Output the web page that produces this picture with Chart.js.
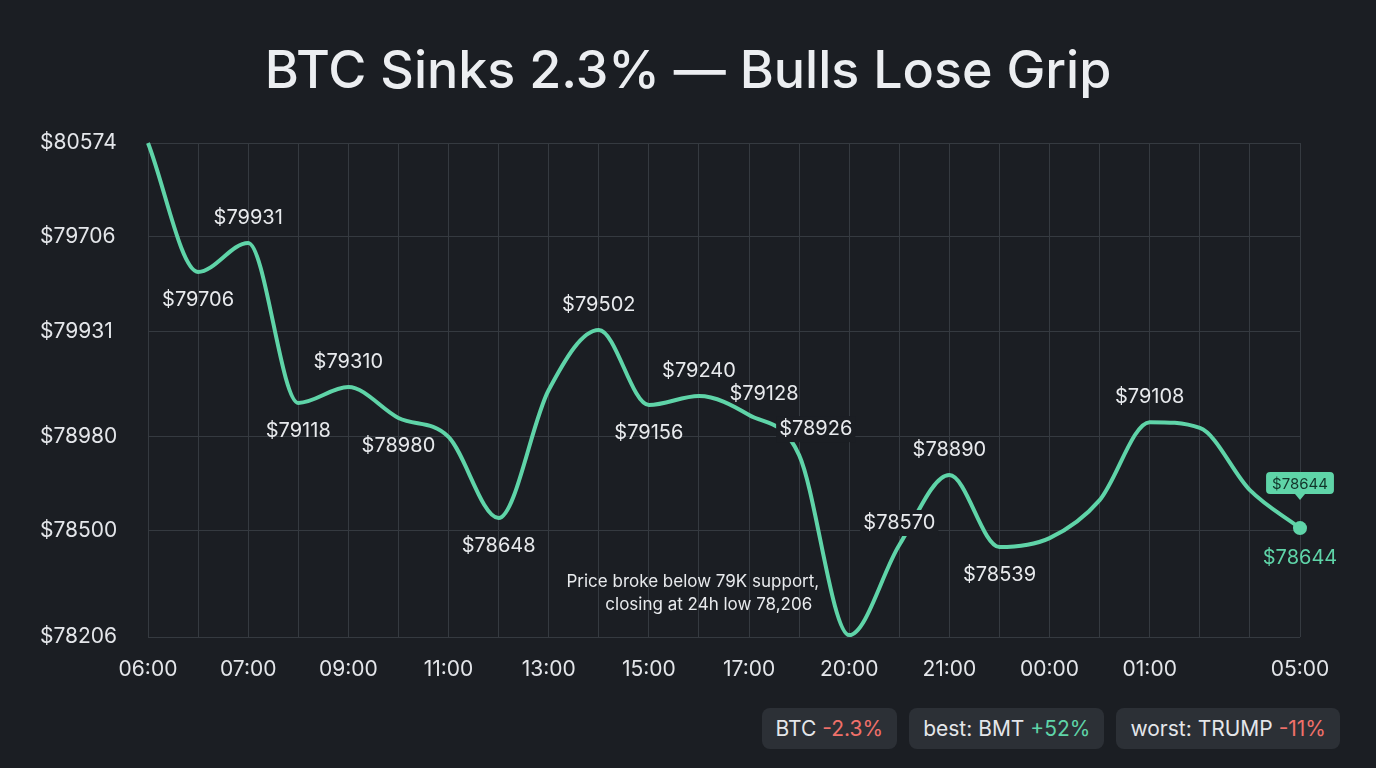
<!DOCTYPE html>
<html>
<head>
<meta charset="utf-8">
<script src="https://cdn.jsdelivr.net/npm/chart.js@4"></script>
<style>
  html, body { margin: 0; padding: 0; background: #1b1e23; }
  body { width: 1376px; height: 768px; position: relative; overflow: hidden; font-family: Inter, "Noto Sans", sans-serif; }
  #wrap { position: absolute; left: 0; top: 0; width: 1376px; height: 768px; }
  .pills { position: absolute; right: 36px; top: 708px; display: flex; gap: 12px; }
  .pill { background: #2c3036; color: #e4e6ea; font-size: 21px; padding: 8px 14px; border-radius: 8px; }
  .neg { color: #f0706a; }
  .pos { color: #5fd4a8; }
</style>
</head>
<body>
<div id="wrap"><canvas id="btcChart"></canvas></div>
<div class="pills">
  <div class="pill">BTC <span class="neg">-2.3%</span></div>
  <div class="pill">best: BMT <span class="pos">+52%</span></div>
  <div class="pill">worst: TRUMP <span class="neg">-11%</span></div>
</div>
<script>
// hourly labels, only some shown on the axis
const hours = ["06:00","","07:00","","09:00","","11:00","","13:00","","15:00","","17:00","","20:00","","21:00","","00:00","","01:00","","","05:00"];
const prices = [80574, 79956, 80095, 79328, 79404, 79256, 79165, 78776, 79390, 79678, 79318, 79361,
                79270, 79078, 78215, 78647, 78982, 78637, 78680, 78862, 79236, 79208, 78910, 78728];
// annotation text per point ("" = none) and where it sits
const pointLabels = ["", "$79706", "$79931", "$79118", "$79310", "$78980", "", "$78648", "", "$79502", "$79156", "$79240",
                     "$79128", "$78926", "", "$78570", "$78890", "$78539", "", "", "$79108", "", "", ""];
const labelSide = ["", "below", "above", "below", "above", "below", "", "below", "", "above", "below", "above",
                   "aboveR", "rightBg", "", "leftBg", "above", "below", "", "", "above", "", "", ""];
const yTickValues = [80574, 80124, 79669, 79166, 78715, 78206];
const yTickLabels = ["$80574", "$79706", "$79931", "$78980", "$78500", "$78206"];
const lastLabel = "$78644";

const LINE = "#5fd4a8";
const BG = "#1b1e23";

const titlePlugin = {
  id: "titleText",
  afterDraw(chart) {
    const ctx = chart.ctx;
    ctx.save();
    ctx.fillStyle = "#eceef1";
    ctx.font = "500 52px Inter, 'Noto Sans', sans-serif";
    ctx.textAlign = "center";
    ctx.textBaseline = "middle";
    ctx.fillText("BTC Sinks 2.3% — Bulls Lose Grip", 688, 72);
    ctx.restore();
  }
};

const labelPlugin = {
  id: "pointText",
  afterDatasetsDraw(chart) {
    const ctx = chart.ctx;
    const meta = chart.getDatasetMeta(0);
    ctx.save();
    ctx.font = "20px Inter, 'Noto Sans', sans-serif";
    ctx.textBaseline = "middle";
    meta.data.forEach((pt, i) => {
      const txt = pointLabels[i];
      if (!txt) return;
      let x = pt.x, y = pt.y;
      ctx.textAlign = "center";
      let bg = false;
      switch (labelSide[i]) {
        case "above": y -= 25; break;
        case "below": y += 28; break;
        case "aboveR": x += 15; y -= 21; break;
        case "rightBg": x -= 20; y -= 26; ctx.textAlign = "left"; bg = true; break;
        case "leftBg": y -= 22; bg = true; break;
      }
      const w = ctx.measureText(txt).width;
      if (bg) {
        ctx.fillStyle = BG;
        const bx = ctx.textAlign === "left" ? x - 3 : x - w / 2 - 3;
        ctx.fillRect(bx, y - 13, w + 6, 26);
      }
      ctx.fillStyle = "#e8eaed";
      ctx.fillText(txt, x, y);
    });

    // annotation at the low
    const low = meta.data[14];
    ctx.font = "17px Inter, 'Noto Sans', sans-serif";
    ctx.textAlign = "right";
    ctx.fillStyle = "#e8eaed";
    ctx.fillText("Price broke below 79K support,", low.x - 30, 582);
    ctx.fillText("closing at 24h low 78,206", low.x - 37, 605);

    // last point marker + badge
    const last = meta.data[meta.data.length - 1];
    ctx.fillStyle = LINE;
    ctx.beginPath();
    ctx.arc(last.x, last.y, 7, 0, Math.PI * 2);
    ctx.fill();
    ctx.font = "20px Inter, 'Noto Sans', sans-serif";
    ctx.textAlign = "center";
    ctx.fillText(lastLabel, last.x, last.y + 30);
    ctx.font = "15px Inter, 'Noto Sans', sans-serif";
    const bw = ctx.measureText(lastLabel).width + 12;
    const by = last.y - 45;
    ctx.beginPath();
    ctx.roundRect(last.x - bw / 2, by - 11, bw, 22, 4);
    ctx.fill();
    ctx.beginPath();
    ctx.moveTo(last.x - 5, by + 11);
    ctx.lineTo(last.x + 5, by + 11);
    ctx.lineTo(last.x, by + 17);
    ctx.fill();
    ctx.fillStyle = "#12342a";
    ctx.fillText(lastLabel, last.x, by + 1);
    ctx.restore();
  }
};

new Chart(document.getElementById("btcChart"), {
  type: "line",
  data: {
    labels: hours,
    datasets: [{
      data: prices,
      borderColor: LINE,
      borderWidth: 4,
      tension: 0.4,
      cubicInterpolationMode: "monotone",
      pointRadius: 0,
      fill: false,
      clip: false
    }]
  },
  options: {
    responsive: true,
    maintainAspectRatio: false,
    animation: false,
    layout: { padding: { left: 40, right: 76, top: 143, bottom: 81 } },
    plugins: { legend: { display: false }, tooltip: { enabled: false } },
    scales: {
      x: {
        offset: false,
        grid: { color: "#353a40", lineWidth: 1, drawTicks: false },
        border: { display: false },
        ticks: {
          color: "#e4e6ea", font: { size: 21, family: "Inter" },
          autoSkip: false, maxRotation: 0, padding: 20
        },
        afterFit(s) { s.height = 50; }
      },
      y: {
        min: 78206, max: 80574,
        grid: { color: "#353a40", lineWidth: 1, drawTicks: false },
        border: { display: false },
        afterBuildTicks(s) { s.ticks = yTickValues.map(v => ({ value: v })); },
        afterFit(s) { s.width = 108; },
        ticks: {
          color: "#e4e6ea", font: { size: 21, family: "Inter" }, crossAlign: "far",
          callback(v) { const i = yTickValues.indexOf(v); return i >= 0 ? yTickLabels[i] : ""; }
        }
      }
    }
  },
  plugins: [titlePlugin, labelPlugin]
});
</script>
</body>
</html>
